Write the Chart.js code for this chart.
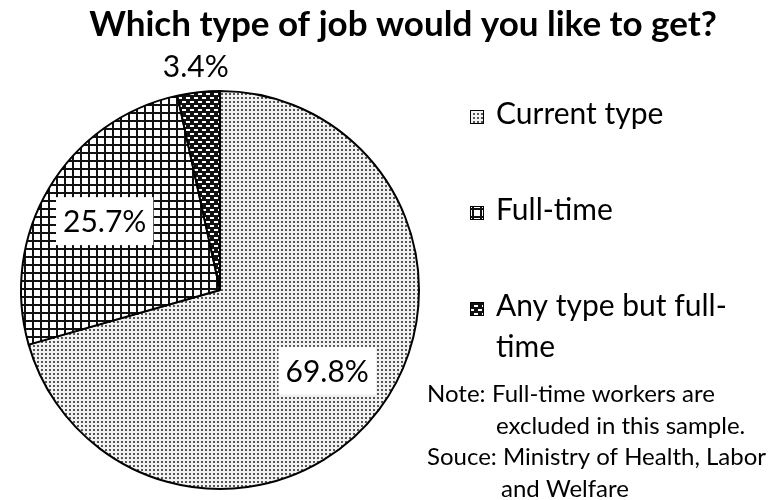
<!DOCTYPE html>
<html>
<head>
<meta charset="utf-8">
<script src="https://cdn.jsdelivr.net/npm/chart.js@4.4.1/dist/chart.umd.min.js"></script>
<style>
  html, body { margin: 0; padding: 0; background: #fff; }
  #wrap { width: 776px; height: 500px; }
</style>
</head>
<body>
<div id="wrap"><canvas id="c" width="776" height="500"></canvas></div>
<script>
// Survey answers (percent of respondents)
const categories = ['Current type', 'Full-time', 'Any type but full-time'];
const shares = [69.8, 25.7, 3.4];
const shareLabels = ['69.8%', '25.7%', '3.4%'];
const titleText = 'Which type of job would you like to get?';
const noteLines = [
  ['Note:', 'Full-time workers are'],
  ['', 'excluded in this sample.'],
  ['Souce:', 'Ministry of Health, Labor'],
  ['', 'and Welfare']
];

const FONT = 'Lato, "Open Sans", sans-serif';

// Monochrome fill patterns, one per slice
function makeTile(w, h, paint) {
  const t = document.createElement('canvas');
  t.width = w; t.height = h;
  const g = t.getContext('2d');
  paint(g, w, h);
  return t;
}
const ctx0 = document.getElementById('c').getContext('2d');
const dotTile = makeTile(4, 4, (g) => {
  g.fillStyle = '#f2f2f2'; g.fillRect(0, 0, 4, 4);
  g.fillStyle = '#555555'; g.fillRect(1, 1, 2, 2);
});
const gridTile = makeTile(8, 8, (g) => {
  g.fillStyle = '#ffffff'; g.fillRect(0, 0, 8, 8);
  g.fillStyle = '#111111';
  g.fillRect(0, 0, 8, 2);
  g.fillRect(0, 0, 2, 8);
});
const brickTile = makeTile(8, 8, (g) => {
  g.fillStyle = '#111111'; g.fillRect(0, 0, 8, 8);
  g.fillStyle = '#ffffff';
  g.fillRect(2, 1, 4, 2);
  g.fillRect(6, 5, 4, 2);
  g.fillRect(-2, 5, 4, 2);
});
const fills = [
  ctx0.createPattern(dotTile, 'repeat'),
  ctx0.createPattern(gridTile, 'repeat'),
  ctx0.createPattern(brickTile, 'repeat')
];

// Break a legend entry after a hyphen or space when it is too wide
function wrapText(g, text, maxW) {
  if (g.measureText(text).width <= maxW) return [text];
  let cut = -1;
  for (let i = 0; i < text.length; i++) {
    const ch = text[i];
    if (ch === '-' || ch === ' ') {
      const head = text.slice(0, ch === '-' ? i + 1 : i);
      if (g.measureText(head).width <= maxW) cut = i;
    }
  }
  if (cut < 0) return [text];
  const head = text.slice(0, text[cut] === '-' ? cut + 1 : cut);
  const tail = text.slice(cut + 1).trim();
  return [head].concat(wrapText(g, tail, maxW));
}

const decorations = {
  id: 'decorations',
  afterDraw(chart) {
    const g = chart.ctx;
    const meta = chart.getDatasetMeta(0);
    g.save();
    g.fillStyle = '#000';
    g.textBaseline = 'alphabetic';

    // Title
    g.font = 'bold 35px ' + FONT;
    g.textAlign = 'center';
    g.fillText(titleText, 403, 36);

    // Slice value labels: white boxes inside large slices, plain text outside small ones
    g.font = '30px ' + FONT;
    const capH = g.measureText('0').actualBoundingBoxAscent;
    meta.data.forEach((arc, i) => {
      const p = arc.getProps(['x', 'y', 'startAngle', 'endAngle', 'outerRadius'], true);
      const mid = (p.startAngle + p.endAngle) / 2;
      const inside = (p.endAngle - p.startAngle) > 0.5;
      const dist = p.outerRadius * (inside ? 0.675 : 1.13);
      const cx = p.x + Math.cos(mid) * dist;
      const cy = p.y + Math.sin(mid) * dist;
      const txt = shareLabels[i];
      if (inside) {
        const w = g.measureText(txt).width + 14;
        const h = 48;
        g.fillStyle = '#fff';
        g.fillRect(cx - w / 2, cy - h / 2, w, h);
      }
      g.fillStyle = '#000';
      g.textAlign = 'center';
      g.fillText(txt, cx, cy + capH / 2);
    });

    // Legend
    g.font = '30px ' + FONT;
    g.textAlign = 'left';
    const mx = 470, box = 14, tx = 496, lineH = 41, itemGap = 96;
    let base = 124;
    categories.forEach((name, i) => {
      const lines = wrapText(g, name, 245);
      g.fillStyle = fills[i];
      g.fillRect(mx, base - box, box, box);
      g.strokeStyle = '#000';
      g.lineWidth = 1;
      g.strokeRect(mx + 0.5, base - box + 0.5, box - 1, box - 1);
      g.fillStyle = '#000';
      lines.forEach((ln, k) => g.fillText(ln, tx, base + k * lineH));
      base += itemGap;
    });

    // Note and source
    g.font = '24px ' + FONT;
    const indents = [492, 496, 503, 501];
    noteLines.forEach((row, k) => {
      const yy = 402 + k * 31.7;
      if (row[0]) g.fillText(row[0], 427, yy);
      g.fillText(row[1], indents[k], yy);
    });

    g.restore();
  }
};

new Chart(document.getElementById('c'), {
  type: 'pie',
  data: {
    labels: categories,
    datasets: [{
      data: shares,
      backgroundColor: fills,
      borderColor: '#000',
      borderWidth: 2,
      hoverOffset: 0
    }]
  },
  options: {
    responsive: false,
    animation: false,
    events: [],
    layout: { padding: { left: 20, right: 356, top: 90, bottom: 10 } },
    plugins: {
      legend: { display: false },
      title: { display: false },
      tooltip: { enabled: false }
    }
  },
  plugins: [decorations]
});
</script>
</body>
</html>
